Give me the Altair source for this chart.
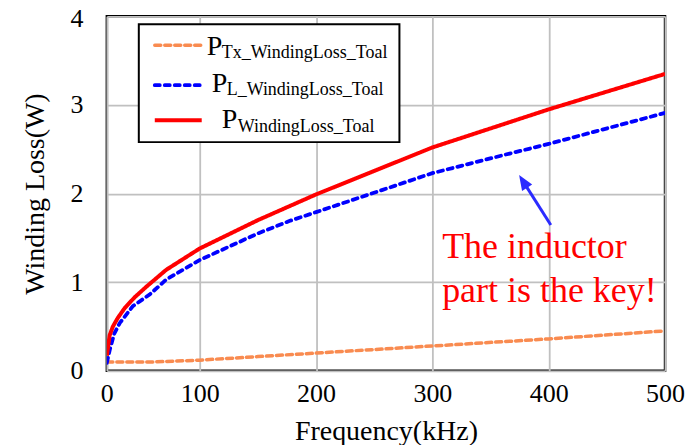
import altair as alt
import pandas as pd

FONT = "Liberation Serif"

# ---- data ----
freq_tx = [0, 50, 100, 150, 200, 300, 400, 500]
loss_tx = [0.10, 0.10, 0.12, 0.16, 0.20, 0.28, 0.36, 0.45]

freq_l = [0, 3.2, 8, 14, 28, 46, 64, 100, 125, 150, 177, 200, 300, 363, 400, 500]
loss_l = [0.09, 0.24, 0.42, 0.54, 0.73, 0.86, 1.03, 1.25, 1.40, 1.55, 1.69, 1.79, 2.23, 2.44, 2.56, 2.91]

freq_tot = [0, 3, 6.5, 12, 19.4, 30, 42.7, 64, 100, 150, 200, 300, 400, 500]
loss_tot = [0.17, 0.40, 0.50, 0.60, 0.71, 0.83, 0.95, 1.14, 1.38, 1.70, 1.99, 2.52, 2.95, 3.35]

x_ticks = [0, 100, 200, 300, 400, 500]
y_ticks = [0, 1, 2, 3, 4]

legend_subs = ["Tx_WindingLoss_Toal", "L_WindingLoss_Toal", "WindingLoss_Toal"]
legend_colors = ["#F98B50", "#0000FF", "#FF0000"]
legend_dashes = [[6, 4], [5, 5], [1, 0]]
line_widths = [3.5, 3.8, 4]

note_lines = ["The inductor", "part is the key!"]
note_x = [308.4, 308.4]
note_y = [1.273, 0.777]

arrow_start = [401.8, 1.645]
arrow_head = [378.0, 2.137]

W, H = 559, 355

x_scale = alt.Scale(domain=[0, 100, 500], range=[0, 93, W], nice=False)
y_scale = alt.Scale(domain=[0, 4], nice=False)

x_axis = alt.Axis(values=x_ticks, title="Frequency(kHz)", labelFlush=False,
                  labelPadding=10, titleY=69, titleBaseline="alphabetic",
                  grid=True, domain=False, ticks=False)
y_axis = alt.Axis(values=y_ticks, title="Winding Loss(W)", labelPadding=24,
                  labelOffset={"condition": {"test": "datum.value == 4", "value": 1.8},
                               "value": 0},
                  titleX=-71, titleBaseline="middle", grid=True,
                  domain=False, ticks=False)


def enc_x(field="f"):
    return alt.X(f"{field}:Q", scale=x_scale, axis=x_axis)


def enc_y(field="v"):
    return alt.Y(f"{field}:Q", scale=y_scale, axis=y_axis)


def series(f, v, color, dash, width):
    df = pd.DataFrame({"f": f, "v": v})
    return alt.Chart(df).mark_line(color=color, strokeDash=dash, strokeWidth=width,
                                   strokeCap="round" if dash != [1, 0] else "butt",
                                   clip=True).encode(x=enc_x(), y=enc_y())


l_tx = series(freq_tx, loss_tx, legend_colors[0], legend_dashes[0], line_widths[0])
l_l = series(freq_l, loss_l, legend_colors[1], legend_dashes[1], line_widths[1])
l_tot = series(freq_tot, loss_tot, legend_colors[2], legend_dashes[2], line_widths[2])

# annotation
note_df = pd.DataFrame({"f": note_x, "v": note_y, "t": note_lines})
note = alt.Chart(note_df).mark_text(font=FONT, fontSize=36, color="#FF0000",
                                    align="left", baseline="alphabetic").encode(
    x=enc_x(), y=enc_y(), text="t:N")

arrow_df = pd.DataFrame({"f": [arrow_start[0]], "v": [arrow_start[1]],
                         "f2": [arrow_head[0]], "v2": [arrow_head[1]]})
arrow_line = alt.Chart(arrow_df).mark_rule(color="#2B2BFF", strokeWidth=3).encode(
    x=enc_x(), y=enc_y(), x2="f2:Q", y2="v2:Q")
arrow_tip = alt.Chart(arrow_df).mark_point(
    shape="M0,-1L0.8,1L-0.8,1Z", filled=True, color="#2B2BFF", opacity=1,
    size=225, angle=327.6).encode(
    x=alt.X("f2:Q", scale=x_scale, axis=x_axis), y=alt.Y("v2:Q", scale=y_scale, axis=y_axis))

# legend (drawn by hand, to allow subscripts)
one = pd.DataFrame({"k": [0]})
leg_box = alt.Chart(one).mark_rect(fill="white", stroke="black", strokeWidth=2).encode(
    x=alt.value(32), x2=alt.value(293), y=alt.value(8), y2=alt.value(126))

sym_y = [29, 69, 104]
p_x = [100, 105, 115]
p_y = [39, 76, 112]
sub_x = [115, 120, 131]
sub_y = [42, 79, 116]

leg_layers = [leg_box]
for i in range(3):
    leg_layers.append(alt.Chart(one).mark_rule(
        color=legend_colors[i], strokeDash=legend_dashes[i], strokeWidth=line_widths[i],
        strokeCap="round" if i < 2 else "butt").encode(
        x=alt.value(48), x2=alt.value(95), y=alt.value(sym_y[i])))
    leg_layers.append(alt.Chart(one).mark_text(
        text="P", font=FONT, fontSize=28, align="left", baseline="alphabetic",
        color="black").encode(x=alt.value(p_x[i]), y=alt.value(p_y[i])))
    leg_layers.append(alt.Chart(one).mark_text(
        text=legend_subs[i], font=FONT, fontSize=18, align="left",
        baseline="alphabetic", color="black").encode(
        x=alt.value(sub_x[i]), y=alt.value(sub_y[i])))

chart = alt.layer(l_tx, l_l, l_tot, note, arrow_line, arrow_tip, *leg_layers).properties(
    width=W, height=H,
    autosize=alt.AutoSizeParams(type="none"),
    padding={"left": 99, "top": 8, "right": 24, "bottom": 76},
).configure_view(stroke="black", strokeWidth=2.5).configure_axis(
    labelFont=FONT, labelFontSize=26, labelColor="black",
    titleFont=FONT, titleFontSize=28, titleFontWeight="normal", titleColor="black",
    gridColor="#C0C0C0", gridWidth=1.8,
)

chart.save("out.html", embed_options={"renderer": "svg", "actions": False})
